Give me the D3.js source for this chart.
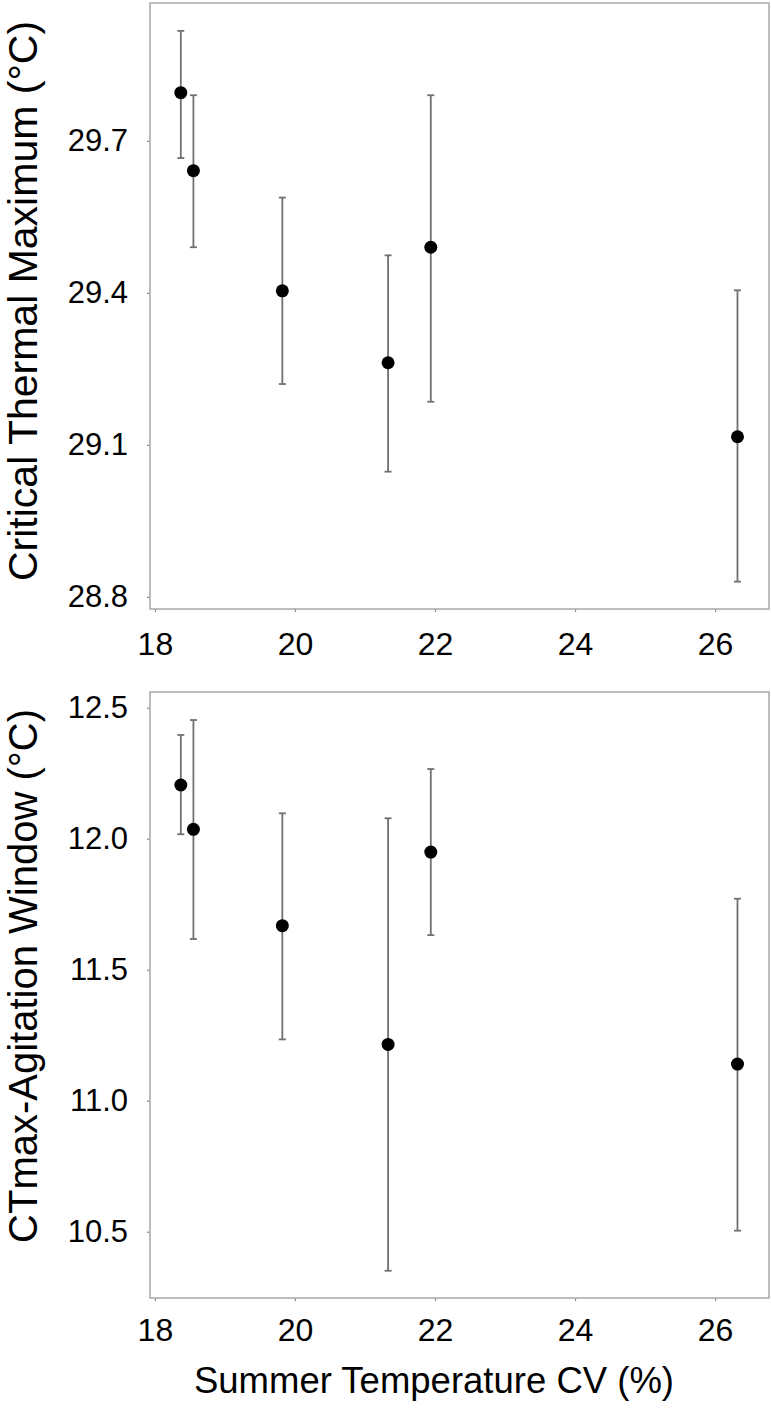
<!DOCTYPE html>
<html lang="en">
<head>
<meta charset="UTF-8">
<title>CTmax vs summer temperature CV</title>
<script src="https://d3js.org/d3.v7.min.js"></script>
<style>
    body { margin: 0; background: #fff; }
    svg { display: block; font-family: 'Liberation Sans', Arial, sans-serif; }
    .frame { fill: none; stroke: #a8a8a8; stroke-width: 1.5; }
    .tick line { stroke: #8a8a8a; stroke-width: 1.2; }
    .tick text { fill: #000; }
    .err { stroke: #707070; stroke-width: 1.8; }
</style>
</head>
<body>
<svg id="chart" width="771" height="1410"></svg>
<script>
    // summer temperature CV (%) of each population
    const cvValues = [18.37, 18.55, 19.82, 21.33, 21.94, 26.32];

    // critical thermal maximum (°C), mean and error bar ends
    const ctmaxMean  = [29.795, 29.641, 29.404, 29.262, 29.490, 29.116];
    const ctmaxUpper = [29.917, 29.790, 29.588, 29.474, 29.790, 29.405];
    const ctmaxLower = [29.666, 29.490, 29.220, 29.047, 29.185, 28.830];

    // CTmax-agitation window (°C)
    const windowMean  = [12.205, 12.036, 11.668, 11.215, 11.949, 11.140];
    const windowUpper = [12.396, 12.453, 12.097, 12.078, 12.266, 11.771];
    const windowLower = [12.017, 11.617, 11.234, 10.351, 11.632, 10.504];

    const xTicks = [18, 20, 22, 24, 26];
    const ctmaxTicks = [28.8, 29.1, 29.4, 29.7];
    const windowTicks = [10.5, 11.0, 11.5, 12.0, 12.5];

    const svg = d3.select('#chart');

    function drawPanel(opt) {
        const { top, bottom, yDomain, yTicks, mean, upper, lower, title, titleY, titleSize, xPad } = opt;
        const left = 150, right = 769;

        const x = d3.scaleLinear().domain([17.93, 26.77]).range([left, right]);
        const y = d3.scaleLinear().domain(yDomain).range([bottom, top]);

        const g = svg.append('g');

        // y axis
        g.append('g')
            .attr('transform', `translate(${left},0)`)
            .call(d3.axisLeft(y).tickValues(yTicks).tickFormat(d3.format('.1f'))
                .tickSize(3).tickSizeOuter(0).tickPadding(19))
            .call(a => a.select('.domain').remove())
            .selectAll('text').style('font-size', '31px');

        // x axis
        g.append('g')
            .attr('transform', `translate(0,${bottom})`)
            .call(d3.axisBottom(x).tickValues(xTicks).tickFormat(d3.format('d'))
                .tickSize(3).tickSizeOuter(0).tickPadding(xPad))
            .call(a => a.select('.domain').remove())
            .selectAll('text').style('font-size', '32px');

        // plot frame
        g.append('rect').attr('class', 'frame')
            .attr('x', left).attr('y', top)
            .attr('width', right - left).attr('height', bottom - top);

        const data = cvValues.map((cv, i) => ({ cv, m: mean[i], hi: upper[i], lo: lower[i] }));

        // error bars
        const bars = g.append('g').selectAll('g').data(data).enter().append('g');
        bars.append('line').attr('class', 'err')
            .attr('x1', d => x(d.cv)).attr('x2', d => x(d.cv))
            .attr('y1', d => y(d.hi)).attr('y2', d => y(d.lo));
        bars.append('line').attr('class', 'err')
            .attr('x1', d => x(d.cv) - 3.5).attr('x2', d => x(d.cv) + 3.5)
            .attr('y1', d => y(d.hi)).attr('y2', d => y(d.hi));
        bars.append('line').attr('class', 'err')
            .attr('x1', d => x(d.cv) - 3.5).attr('x2', d => x(d.cv) + 3.5)
            .attr('y1', d => y(d.lo)).attr('y2', d => y(d.lo));

        // means
        g.append('g').selectAll('circle').data(data).enter().append('circle')
            .attr('cx', d => x(d.cv)).attr('cy', d => y(d.m))
            .attr('r', 6.5).attr('fill', '#000');

        // y title
        g.append('text')
            .attr('transform', `translate(37,${titleY}) rotate(-90)`)
            .attr('text-anchor', 'middle')
            .style('font-size', titleSize)
            .text(title);
    }

    drawPanel({
        top: 3, bottom: 609,
        yDomain: [28.776, 29.972], yTicks: ctmaxTicks,
        mean: ctmaxMean, upper: ctmaxUpper, lower: ctmaxLower,
        title: 'Critical Thermal Maximum (°C)', titleY: 301, titleSize: '41px', xPad: 20
    });

    drawPanel({
        top: 692, bottom: 1298,
        yDomain: [10.247, 12.56], yTicks: windowTicks,
        mean: windowMean, upper: windowUpper, lower: windowLower,
        title: 'CTmax-Agitation Window (°C)', titleY: 976, titleSize: '40px', xPad: 17
    });

    // shared x title
    svg.append('text')
        .attr('x', 434).attr('y', 1393)
        .attr('text-anchor', 'middle')
        .style('font-size', '36.5px')
        .text('Summer Temperature CV (%)');
</script>
</body>
</html>
